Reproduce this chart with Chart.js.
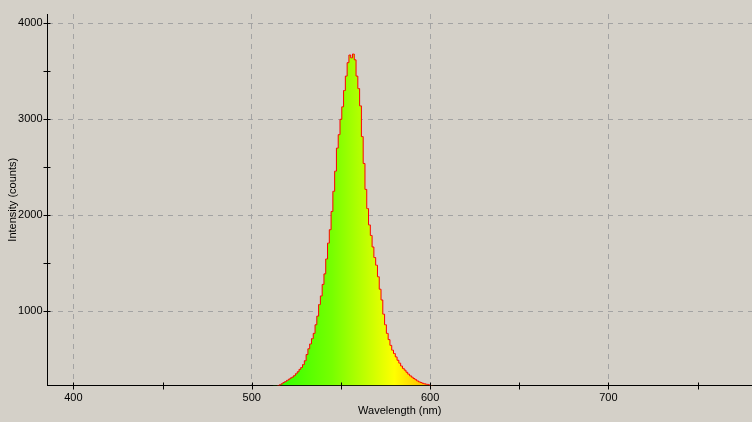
<!DOCTYPE html>
<html>
<head>
<meta charset="utf-8">
<script src="https://cdn.jsdelivr.net/npm/chart.js@4/dist/chart.umd.min.js"></script>
<style>
  body { margin: 0; background: #d4d0c8; }
  canvas { display: block; }
</style>
</head>
<body>
<canvas class="spectrum-chart" width="752" height="422"></canvas>
<script>
// wavelength (nm) of each sample
const wavelengths = [
    512, 513, 514, 515, 516, 517, 518, 519, 520, 521,
    522, 523, 524, 525, 526, 527, 528, 529, 530, 531,
    532, 533, 534, 535, 536, 537, 538, 539, 540, 541,
    542, 543, 544, 545, 546, 547, 548, 549, 550, 551,
    552, 553, 554, 555, 556, 557, 558, 559, 560, 561,
    562, 563, 564, 565, 566, 567, 568, 569, 570, 571,
    572, 573, 574, 575, 576, 577, 578, 579, 580, 581,
    582, 583, 584, 585, 586, 587, 588, 589, 590, 591,
    592, 593, 594, 595, 596, 597, 598, 599, 600, 601,
    602
];

// intensity (counts)
const counts = [
    180, 195, 210, 225, 235, 245, 258, 268, 280, 292,
    305, 315, 330, 350, 370, 395, 415, 445, 485, 550,
    610, 660, 715, 770, 860, 950, 1070, 1160, 1280, 1390,
    1545, 1710, 1850, 2040, 2250, 2460, 2700, 2840, 3000, 3130,
    3300, 3450, 3590, 3670, 3640, 3680, 3620, 3450, 3320, 3140,
    2820, 2540, 2270, 2070, 1900, 1790, 1670, 1560, 1480, 1360,
    1230, 1118, 970, 860, 770, 705, 645, 595, 560, 525,
    490, 460, 430, 405, 387, 365, 345, 328, 314, 300,
    288, 275, 265, 258, 250, 245, 240, 238, 230, 200,
    180
];

// tick positions (every tick gets a mark, only the major ones a label)
const xTicks = [400, 450, 500, 550, 600, 650, 700, 750];
const xMajor = [400, 500, 600, 700];
const yTicks = [1000, 1500, 2000, 2500, 3000, 3500, 4000];
const yMajor = [1000, 2000, 3000, 4000];

// colour of light at a given wavelength, used for the fill
const spectrumStops = [
    [510, '#22ff00'],
    [545, '#77ff00'],
    [580, '#ffff00'],
    [600, '#ffb400'],
    [645, '#ff0000']
];

const ctx = document.querySelector('.spectrum-chart');

const tickMarks = {
    id: 'tickMarks',
    afterDraw(chart) {
        const c = chart.ctx;
        const x = chart.scales.x;
        const y = chart.scales.y;
        c.save();
        c.strokeStyle = '#000';
        c.lineWidth = 1;
        c.beginPath();
        x.ticks.forEach(t => {
            const px = Math.round(x.getPixelForValue(t.value)) + 0.5;
            c.moveTo(px, y.bottom - 3);
            c.lineTo(px, y.bottom + 4);
        });
        y.ticks.forEach(t => {
            const py = Math.round(y.getPixelForValue(t.value)) + 0.5;
            c.moveTo(x.left - 4, py);
            c.lineTo(x.left + 3, py);
        });
        c.stroke();
        c.restore();
    }
};

function spectrumFill(context) {
    const chart = context.chart;
    if (!chart.chartArea) return '#88ff00';
    const sx = chart.scales.x;
    const first = spectrumStops[0][0];
    const last = spectrumStops[spectrumStops.length - 1][0];
    const g = chart.ctx.createLinearGradient(sx.getPixelForValue(first), 0, sx.getPixelForValue(last), 0);
    spectrumStops.forEach(([nm, col]) => g.addColorStop((nm - first) / (last - first), col));
    return g;
}

Chart.defaults.font.family = '"Liberation Sans", "DejaVu Sans", sans-serif';
Chart.defaults.font.size = 11;
Chart.defaults.color = '#000';

new Chart(ctx, {
    type: 'line',
    data: {
        datasets: [{
            label: 'Intensity',
            data: wavelengths.map((w, i) => ({ x: w, y: counts[i] })),
            borderColor: '#ff0000',
            borderWidth: 1,
            backgroundColor: spectrumFill,
            fill: 'start',
            stepped: 'middle',
            pointRadius: 0
        }]
    },
    options: {
        responsive: false,
        animation: false,
        layout: {
            padding: { top: 14, right: 0, left: 0, bottom: 0 }
        },
        scales: {
            x: {
                type: 'linear',
                min: 385.5,
                max: 780.5,
                afterFit: scale => { scale.height = 36.5; },
                afterBuildTicks: scale => { scale.ticks = xTicks.map(v => ({ value: v })); },
                ticks: {
                    autoSkip: false,
                    maxRotation: 0,
                    padding: 6,
                    callback: v => xMajor.includes(v) ? String(v) : ''
                },
                border: { display: true, color: '#000', width: 1, dash: [5, 5] },
                grid: {
                    drawTicks: false,
                    color: c => (c.tick && xMajor.includes(c.tick.value)) ? '#a3a3a3' : 'rgba(0,0,0,0)'
                },
                title: {
                    display: true,
                    text: 'Wavelength (nm)',
                    padding: { top: 0, bottom: 4 }
                }
            },
            y: {
                min: 227,
                max: 4097,
                afterFit: scale => { scale.width = 47.5; },
                afterBuildTicks: scale => { scale.ticks = yTicks.map(v => ({ value: v })); },
                ticks: {
                    autoSkip: false,
                    padding: 5,
                    callback: v => yMajor.includes(v) ? String(v) : ''
                },
                border: { display: true, color: '#000', width: 1, dash: [5, 5] },
                grid: {
                    drawTicks: false,
                    color: c => (c.tick && yMajor.includes(c.tick.value)) ? '#a3a3a3' : 'rgba(0,0,0,0)'
                },
                title: {
                    display: true,
                    text: 'Intensity (counts)',
                    padding: { top: 6, bottom: 0 }
                }
            }
        },
        plugins: {
            legend: { display: false },
            tooltip: { enabled: false }
        }
    },
    plugins: [tickMarks]
});
</script>
</body>
</html>
